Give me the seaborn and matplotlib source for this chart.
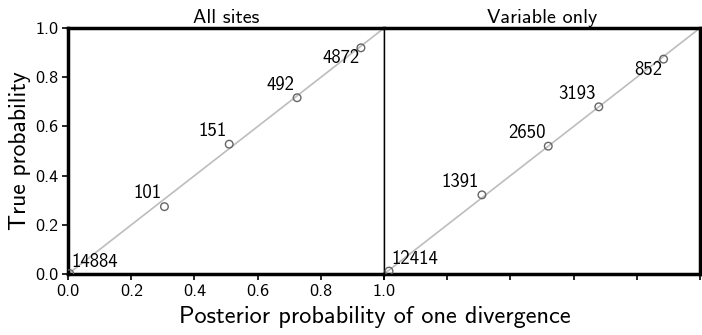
import matplotlib
matplotlib.use("Agg")
import matplotlib.pyplot as plt
import seaborn as sns
import pandas as pd

sns.set_style("ticks")
plt.rcParams['font.family'] = ['cmss10', 'DejaVu Sans']
plt.rcParams['axes.unicode_minus'] = False
plt.rcParams['text.color'] = 'black'
plt.rcParams['axes.labelcolor'] = 'black'
plt.rcParams['xtick.color'] = 'black'
plt.rcParams['ytick.color'] = 'black'
plt.rcParams['axes.edgecolor'] = 'black'

panels = ["All sites", "Variable only"]
all_x = [0.005, 0.305, 0.51, 0.725, 0.927]
all_y = [0.002, 0.274, 0.528, 0.717, 0.920]
all_n = [14884, 101, 151, 492, 4872]
var_x = [0.016, 0.31, 0.52, 0.68, 0.885]
var_y = [0.012, 0.322, 0.52, 0.68, 0.874]
var_n = [12414, 1391, 2650, 3193, 852]
ticks = [0.0, 0.2, 0.4, 0.6, 0.8, 1.0]

fig, axes = plt.subplots(1, 2, figsize=(7.02, 3.35), dpi=100, sharey=True)
fig.subplots_adjust(left=0.097, right=0.997, top=0.916, bottom=0.182, wspace=0)

data = [(all_x, all_y, all_n), (var_x, var_y, var_n)]
for i, (ax, title, (xs, ys, ns)) in enumerate(zip(axes, panels, data)):
    df = pd.DataFrame({"x": xs, "y": ys, "n": ns})
    sns.lineplot(x=[0, 1], y=[0, 1], ax=ax, color="#bdbdbd", lw=1.2, zorder=1)
    sns.scatterplot(data=df, x="x", y="y", ax=ax, s=30, facecolor="none",
                    edgecolor="#666666", linewidth=1.0, zorder=3)
    for j, (x, y, n) in enumerate(zip(xs, ys, ns)):
        if j == 0:
            ax.annotate(str(n), (x, y), xytext=(1.5, 2), textcoords="offset points",
                        ha="left", va="bottom", fontsize=13.5)
        elif j == len(xs) - 1:
            ax.annotate(str(n), (x, y), xytext=(-1, -1), textcoords="offset points",
                        ha="right", va="top", fontsize=13.5)
        else:
            ax.annotate(str(n), (x, y), xytext=(-2, 3), textcoords="offset points",
                        ha="right", va="bottom", fontsize=13.5)
    ax.set_xlim(0, 1)
    ax.set_ylim(0, 1)
    ax.set_xticks(ticks)
    ax.set_yticks(ticks)
    ax.set_title(title, fontsize=14.5, pad=4)
    ax.set_xlabel("")
    ax.set_ylabel("")
    for s in ax.spines.values():
        s.set_visible(True)
        s.set_linewidth(2.5)
    ax.tick_params(direction="out", length=4, width=1.2, labelsize=13, pad=3)

axes[0].spines["right"].set_linewidth(1.0)
axes[1].spines["left"].set_linewidth(1.0)
axes[0].set_xticklabels([f"{t:.1f}" for t in ticks])
axes[0].set_yticklabels([f"{t:.1f}" for t in ticks])
axes[1].tick_params(labelbottom=False, labelleft=False, left=False)
axes[0].set_ylabel("True probability", fontsize=17, labelpad=3)
fig.text(0.534, 0.02, "Posterior probability of one divergence", ha="center",
         va="bottom", fontsize=17.5)

fig.savefig("out.png", dpi=100)
